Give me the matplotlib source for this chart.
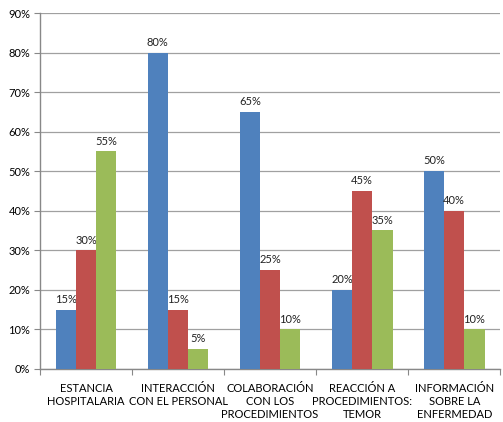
import matplotlib.pyplot as plt
import numpy as np

# Data
categories = ["ESTANCIA\nHOSPITALARIA", "INTERACCIÓN\nCON EL PERSONAL",
              "COLABORACIÓN\nCON LOS\nPROCEDIMIENTOS", "REACCIÓN A\nPROCEDIMIENTOS:\nTEMOR",
              "INFORMACIÓN\nSOBRE LA\nENFERMEDAD"]
serie1 = [15, 80, 65, 20, 50]
serie2 = [30, 15, 25, 45, 40]
serie3 = [55, 5, 10, 35, 10]

colors = ['#4F81BD', '#C0504D', '#9BBB59']
plt.rcParams['font.family'] = ['Lato', 'DejaVu Sans']

fig = plt.figure(figsize=(5.03, 4.22), dpi=100)
ax = fig.add_axes([0.0795, 0.126, 0.915, 0.843])

x = np.arange(len(categories))
w = 0.22
for i, (vals, c) in enumerate(zip([serie1, serie2, serie3], colors)):
    pos = x + (i - 1) * w
    ax.bar(pos, vals, width=w, color=c, zorder=3)
    for p, v in zip(pos, vals):
        ax.text(p, v + 1.2, f"{v}%", ha='center', va='bottom', fontsize=8, color='#222222')

ax.set_ylim(0, 90)
ax.set_xlim(-0.5, len(categories) - 0.5)
ax.set_yticks(range(0, 91, 10))
ax.set_yticklabels([f"{v}%" for v in range(0, 91, 10)], fontsize=8)
ax.grid(axis='y', color='#A0A0A0', linewidth=0.9, zorder=0)

ax.set_xticks(np.arange(-0.5, len(categories), 1))
ax.set_xticklabels([])
ax.set_xticks(x, minor=True)
ax.set_xticklabels(categories, minor=True, fontsize=8, linespacing=1.25)
ax.tick_params(axis='x', which='minor', length=0, pad=10)
ax.tick_params(axis='x', which='major', length=4, color='#888888', direction='out')
ax.tick_params(axis='y', length=4, color='#888888', direction='out', pad=3)

for s in ['top', 'right']:
    ax.spines[s].set_visible(False)
for s in ['left', 'bottom']:
    ax.spines[s].set_color('#888888')
    ax.spines[s].set_linewidth(1.0)

fig.savefig('out.png', dpi=100)
